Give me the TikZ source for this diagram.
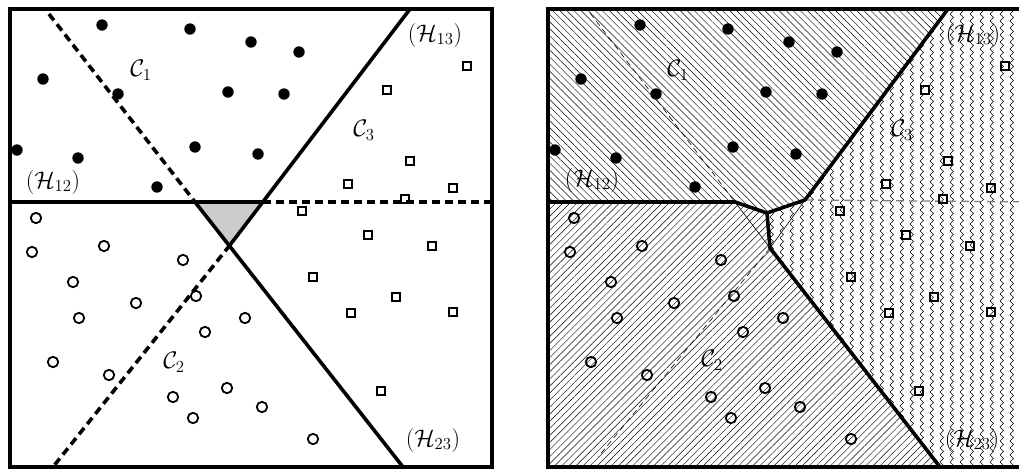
\documentclass[tikz,border=0pt]{standalone}
\usepackage{fix-cm}
\usetikzlibrary{patterns,patterns.meta}

% zigzag fill for the third class
\pgfdeclarepatternformonly{zigzag lines}{\pgfqpoint{-1pt}{-1pt}}{\pgfqpoint{11pt}{8pt}}{\pgfqpoint{10pt}{7pt}}{
  \pgfsetlinewidth{0.45pt}
  \pgfpathmoveto{\pgfqpoint{0pt}{0pt}}
  \pgfpathlineto{\pgfqpoint{3.5pt}{3.5pt}}
  \pgfpathlineto{\pgfqpoint{0pt}{7pt}}
  \pgfusepath{stroke}}

% sample points (pixel positions)
\newcommand{\ptsone}{102/25,190/29,251/42,299/52,43/79,118/94,228/92,284/94,17/150,78/158,195/147,258/154,157/187}
\newcommand{\ptstwo}{36/218,32/252,104/246,183/260,73/282,196/296,136/303,79/318,245/318,205/332,53/362,109/375,227/388,173/397,262/407,193/418,313/439}
\newcommand{\ptsthree}{467/66,387/90,410/161,348/184,453/188,405/199,302/211,368/235,432/246,313/277,396/297,351/313,453/312,381/391}

\begin{document}
\begin{tikzpicture}[x=1pt, y=-1pt,
    sep/.style={line width=3.6pt},
    sepdash/.style={line width=3.6pt, dash pattern=on 8pt off 5pt},
    thinsep/.style={line width=0.6pt},
    frame/.style={line width=3.8pt},
    lbl/.style={font=\fontsize{24}{28}\selectfont, inner sep=0pt}]
    \useasboundingbox (0,0) rectangle (1019,469);
    \clip (0,0) rectangle (1019,469);

    % Kairys: tiesiniai skyrikliai
    \coordinate (a) at (195,202);
    \coordinate (b) at (263,202);
    \coordinate (d) at (230,245);
    \fill[gray!40] (a) -- (b) -- (d) -- cycle;
    \draw[sep] (10,202) -- (b);
    \draw[sepdash] (b) -- (492,202);
    \draw[sep] (410,9) -- (d);
    \draw[sepdash] (d) -- (53,467);
    \draw[sepdash] (49,14) -- (a);
    \draw[sep] (a) -- (403,467);
    \node[lbl] (c1L) at (141,70) {$\mathcal{C}_1$};
    \node[lbl] (c2L) at (174,362) {$\mathcal{C}_2$};
    \node[lbl] (c3L) at (364,130) {$\mathcal{C}_3$};
    \node[lbl] (h12L) at (53,182) {$(\mathcal{H}_{12})$};
    \node[lbl] (h13L) at (435,35) {$(\mathcal{H}_{13})$};
    \node[lbl] (h23L) at (433,440) {$(\mathcal{H}_{23})$};

    % Desinys: sritys
    \begin{scope}[xshift=538pt]
        \coordinate (A) at (197,202);
        \coordinate (M) at (229,213);
        \coordinate (B) at (267,200);
        \coordinate (D) at (232,248);
        \node[lbl] (c1R) at (140,70) {$\mathcal{C}_1$};
        \node[lbl] (c2R) at (174,360) {$\mathcal{C}_2$};
        \node[lbl] (c3R) at (364,130) {$\mathcal{C}_3$};
        \node[lbl] (h12R) at (54,180) {$(\mathcal{H}_{12})$};
        \node[lbl] (h13R) at (435,35) {$(\mathcal{H}_{13})$};
        \node[lbl] (h23R) at (434,440) {$(\mathcal{H}_{23})$};
        \pattern[pattern={Lines[angle=-45,distance=5pt,line width=0.45pt]}]
            (10,9) -- (410,9) -- (B) -- (M) -- (A) -- (10,202) -- cycle;
        \pattern[pattern={Lines[angle=45,distance=5pt,line width=0.45pt]}]
            (10,202) -- (A) -- (M) -- (D) -- (402,467) -- (10,467) -- cycle;
        \pattern[pattern=zigzag lines]
            (410,9) -- (500,9) -- (500,467) -- (402,467) -- (D) -- (M) -- (B) -- cycle;
        \draw[thinsep, dash pattern=on 6pt off 4pt] (52,13) -- (A);
        \draw[thinsep, dash pattern=on 6pt off 4pt] (D) -- (60,457);
        \draw[thinsep] (A) -- (D);
        \draw[thinsep] (B) -- (D);
        \draw[gray, line width=1.3pt, dash pattern=on 8pt off 5pt] (B) -- (500,202);
        \draw[sep, line join=round] (10,202) -- (A) -- (M) -- (B) -- (410,9);
        \draw[sep, line join=round] (M) -- (D) -- (402,467);
    \end{scope}

    % Taskai abiem paveiksleliams
    \foreach \dx in {0,538} {
        \begin{scope}[xshift=\dx pt]
            \foreach \x/\y in \ptsone {
                \fill (\x,\y) circle (5.7);
            }
            \foreach \x/\y in \ptstwo {
                \draw[line width=1.8pt] (\x,\y) circle (5.2);
            }
            \foreach \x/\y in \ptsthree {
                \draw[line width=1.8pt] (\x-4.3,\y-4.3) rectangle ++(8.6,8.6);
            }
            \draw[frame] (10,9) rectangle (492,467);
        \end{scope}
    }
\end{tikzpicture}
\end{document}
